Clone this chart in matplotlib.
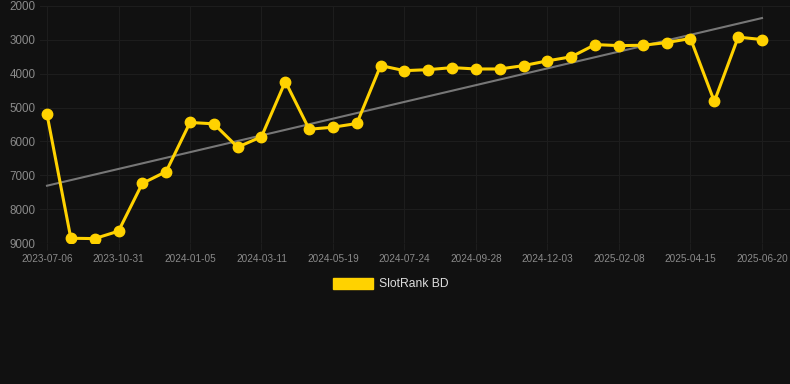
import numpy as np
import matplotlib
matplotlib.use("Agg")
import matplotlib.pyplot as plt
from matplotlib.patches import Patch

plt.rcParams['font.family'] = ['Liberation Sans', 'DejaVu Sans']

# rank values, one per observation (categorical x axis)
ranks = [5200, 8860, 8870, 8650, 7240, 6890, 5440, 5480, 6170, 5860,
         4230, 5640, 5580, 5470, 3760, 3910, 3880, 3820, 3860, 3860,
         3760, 3620, 3500, 3140, 3170, 3160, 3080, 2960, 4820, 2920,
         2990]
tick_labels = ["2023-07-06", "2023-10-31", "2024-01-05", "2024-03-11",
               "2024-05-19", "2024-07-24", "2024-09-28", "2024-12-03",
               "2025-02-08", "2025-04-15", "2025-06-20"]
y_ticks = [2000, 3000, 4000, 5000, 6000, 7000, 8000, 9000]
series_name = "SlotRank BD"

bg = "#111111"
gold = "#ffd200"
grid_c = "#1d1d1d"

fig = plt.figure(figsize=(7.9, 3.84), dpi=100, facecolor=bg)
ax = fig.add_axes([40 / 790, 1 - 243 / 384, 750 / 790, 237 / 384])
ax.set_facecolor(bg)

x = np.arange(len(ranks))
# linear trend
k, b = np.polyfit(x, ranks, 1)
ax.plot(x, k * x + b, color="#777777", lw=1.5, zorder=2)
ax.plot(x, ranks, color=gold, lw=2.2, marker="o", ms=7.5, zorder=3)

ax.set_xlim(-7 / 23.83, 30 + 28 / 23.83)
ax.set_ylim(9000, 2000)
ax.set_yticks(y_ticks)
ax.set_yticklabels([str(v) for v in y_ticks])
ax.set_xticks(x[::3])
ax.set_xticklabels(tick_labels)

ax.grid(True, color=grid_c, lw=0.8)
ax.axhline(9000, color="#2a2a2a", lw=0.8, zorder=1)
for s in ax.spines.values():
    s.set_visible(False)
ax.tick_params(axis="y", length=0, pad=3, labelsize=8.4, labelcolor="#8a8a8a")
ax.tick_params(axis="x", length=5, color=grid_c, pad=3, labelsize=7.2, labelcolor="#8a8a8a")

fig.legend(handles=[Patch(facecolor=gold, edgecolor=gold)], labels=[series_name],
           loc="center", bbox_to_anchor=(0.5 - 4 / 790, 1 - 284 / 384), frameon=False,
           handlelength=3.3, handleheight=1.0, handletextpad=0.5,
           fontsize=8.7, labelcolor="#dddddd")

fig.savefig("out.png", dpi=100, facecolor=bg)
